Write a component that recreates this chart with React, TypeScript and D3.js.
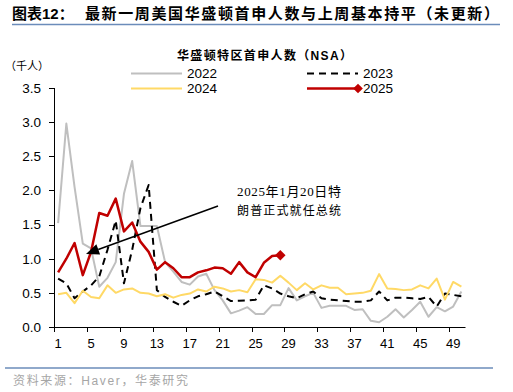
import React, { useEffect, useRef } from "react";
import * as d3 from "d3";

// weekly initial claims, DC (NSA), thousands
const weeks = d3.range(1, 51);
const xTickWeeks = [1, 5, 9, 13, 17, 21, 25, 29, 33, 37, 41, 45, 49];
const yTicks = [0, 0.5, 1, 1.5, 2, 2.5, 3, 3.5];

const y2022 = [
  1.52, 2.98, 2.05, 1.22, 1.15, 0.59, 0.72, 0.95, 1.95, 2.43, 1.48, 1.48, 1.48,
  0.95, 0.81, 0.66, 0.62, 0.74, 0.78, 0.54, 0.39, 0.2, 0.24, 0.29, 0.19, 0.19,
  0.32, 0.32, 0.57, 0.39, 0.45, 0.5, 0.28, 0.31, 0.31, 0.31, 0.25, 0.26, 0.09,
  0.07, 0.15, 0.26, 0.14, 0.25, 0.37, 0.15, 0.29, 0.23, 0.3, 0.52
];
const y2023 = [
  0.71, 0.64, 0.42, 0.52, 0.61, 0.74, 1.13, 1.56, 0.64, 1.13, 1.74, 2.08, 0.54,
  0.44, 0.37, 0.31, 0.39, 0.45, 0.48, 0.52, 0.45, 0.38, 0.385, 0.39, 0.4, 0.61,
  0.565, 0.49, 0.45, 0.42, 0.48, 0.52, 0.42, 0.4, 0.39, 0.38, 0.37, 0.37, 0.39,
  0.52, 0.39, 0.43, 0.43, 0.42, 0.41, 0.44, 0.3, 0.49, 0.47, 0.45
];
const y2024 = [
  0.48, 0.5, 0.35, 0.53, 0.44, 0.42, 0.61, 0.5, 0.55, 0.565, 0.5, 0.49, 0.45,
  0.48, 0.43, 0.47, 0.49, 0.55, 0.52, 0.59, 0.565, 0.52, 0.54, 0.51, 0.7, 0.69,
  0.65, 0.75, 0.65, 0.54, 0.64, 0.55, 0.61, 0.575, 0.575, 0.48, 0.49, 0.5, 0.53,
  0.775, 0.565, 0.555, 0.54, 0.55, 0.61, 0.565, 0.71, 0.4, 0.66, 0.59
];
const y2025 = [
  0.8, 1.0, 1.23, 0.76, 1.1, 1.67, 1.63, 1.88, 1.4, 1.53, 1.25, 1.1, 0.84, 0.95,
  0.86, 0.73, 0.73, 0.8, 0.83, 0.87, 0.86, 0.78, 0.95, 0.8, 0.73, 0.94, 1.04, 1.05
];

const series = [
  { name: "2022", values: y2022, color: "#bfbfbf", width: 2, dash: null },
  { name: "2023", values: y2023, color: "#000000", width: 2, dash: "7,5" },
  { name: "2024", values: y2024, color: "#ffd966", width: 2, dash: null },
  { name: "2025", values: y2025, color: "#c00000", width: 2.5, dash: null }
];

const width = 513;
const height = 392;
const sans = "'Liberation Sans', Arial, 'Noto Sans CJK SC', sans-serif";
const cjk = "'Liberation Sans', 'Noto Sans CJK SC', sans-serif";
const serif = "'Liberation Serif', 'Noto Sans CJK SC', serif";
const rule = "#6b8cba";

const App = () => {
  const chart = useRef(null);

  useEffect(() => {
    const svg = d3.select(chart.current);
    svg.selectAll("*").remove();

    const x = d3.scaleBand().domain(weeks).range([54, 465.5]).padding(0);
    const cx = w => x(w) + x.bandwidth() / 2;
    const y = d3.scaleLinear().domain([0, 3.5]).range([327, 88]);

    // title
    svg.append("text").attr("x", 12).attr("y", 19)
      .attr("font-family", cjk).attr("font-size", 15).attr("font-weight", "bold")
      .text("图表12：");
    svg.append("text").attr("x", 85).attr("y", 19)
      .attr("font-family", cjk).attr("font-size", 15).attr("font-weight", "bold")
      .attr("textLength", 414).attr("lengthAdjust", "spacing")
      .text("最新一周美国华盛顿首申人数与上周基本持平（未更新）");
    svg.append("line").attr("x1", 12).attr("x2", 500).attr("y1", 24.5).attr("y2", 24.5)
      .attr("stroke", rule).attr("stroke-width", 1.5);

    // chart title + unit
    svg.append("text").attr("x", 177).attr("y", 60)
      .attr("font-family", cjk).attr("font-size", 12).attr("font-weight", "bold")
      .attr("textLength", 175).attr("lengthAdjust", "spacing")
      .text("华盛顿特区首申人数（NSA）");
    svg.append("text").attr("x", 5).attr("y", 70)
      .attr("font-family", "'Noto Sans CJK SC', sans-serif").attr("font-size", 11)
      .text("（千人）");

    // legend
    const legend = [
      { s: series[0], x: 131, y: 73.5 },
      { s: series[1], x: 307, y: 73.5 },
      { s: series[2], x: 131, y: 88.5 },
      { s: series[3], x: 307, y: 88.5 }
    ];
    legend.forEach(d => {
      svg.append("line").attr("x1", d.x).attr("x2", d.x + 51).attr("y1", d.y).attr("y2", d.y)
        .attr("stroke", d.s.color).attr("stroke-width", d.s.width)
        .attr("stroke-dasharray", d.s.dash);
      if (d.s.name === "2025") {
        svg.append("path").attr("d", d3.symbol(d3.symbolDiamond2, 60)())
          .attr("transform", `translate(${d.x + 51},${d.y})`).attr("fill", d.s.color);
      }
      svg.append("text").attr("x", d.x + 56).attr("y", d.y).attr("dy", "0.36em")
        .attr("font-family", sans).attr("font-size", 13.5).text(d.s.name);
    });

    // axes
    const ax = svg.append("g").attr("stroke", "#000").attr("stroke-width", 1);
    ax.append("line").attr("x1", 54.5).attr("x2", 54.5).attr("y1", y(3.5)).attr("y2", y(0));
    ax.append("line").attr("x1", 54).attr("x2", 465.5).attr("y1", y(0) + 0.5).attr("y2", y(0) + 0.5);
    yTicks.forEach(t => {
      ax.append("line").attr("x1", 49).attr("x2", 54.5)
        .attr("y1", Math.round(y(t)) + 0.5).attr("y2", Math.round(y(t)) + 0.5);
      svg.append("text").attr("x", 41).attr("y", y(t)).attr("dy", "0.36em")
        .attr("text-anchor", "end").attr("font-family", sans).attr("font-size", 13.5)
        .text(d3.format(".1f")(t));
    });
    xTickWeeks.forEach(w => {
      const tx = Math.round(x(w)) + 0.5;
      ax.append("line").attr("x1", tx).attr("x2", tx).attr("y1", y(0)).attr("y2", y(0) + 5);
      svg.append("text").attr("x", cx(w)).attr("y", 348)
        .attr("text-anchor", "middle").attr("font-family", sans).attr("font-size", 13)
        .text(w);
    });

    // lines
    series.forEach(s => {
      const line = d3.line().x((v, i) => cx(weeks[i])).y(v => y(v));
      svg.append("path").attr("d", line(s.values)).attr("fill", "none")
        .attr("stroke", s.color).attr("stroke-width", s.width)
        .attr("stroke-dasharray", s.dash).attr("stroke-linejoin", "round");
    });
    const last = y2025.length - 1;
    svg.append("path").attr("d", d3.symbol(d3.symbolDiamond2, 70)())
      .attr("transform", `translate(${cx(weeks[last])},${y(y2025[last])})`)
      .attr("fill", "#c00000");

    // annotation (inauguration, week 5 of 2025)
    const tipX = cx(5) - 5;
    const tipY = y(y2025[4]) + 2;
    const fromX = 218, fromY = 206;
    const ang = Math.atan2(tipY - fromY, tipX - fromX);
    const hl = 13, hw = 5.5;
    const bx = tipX - hl * Math.cos(ang), by = tipY - hl * Math.sin(ang);
    svg.append("line").attr("x1", fromX).attr("y1", fromY).attr("x2", bx).attr("y2", by)
      .attr("stroke", "#000").attr("stroke-width", 1.5);
    svg.append("path")
      .attr("d", `M${tipX},${tipY}L${bx + hw * Math.sin(ang)},${by - hw * Math.cos(ang)}L${bx - hw * Math.sin(ang)},${by + hw * Math.cos(ang)}Z`)
      .attr("fill", "#000");
    svg.append("text").attr("x", 237).attr("y", 196)
      .attr("font-family", serif).attr("font-size", 13)
      .attr("textLength", 104).attr("lengthAdjust", "spacing")
      .text("2025年1月20日特");
    svg.append("text").attr("x", 237).attr("y", 215)
      .attr("font-family", serif).attr("font-size", 12)
      .attr("textLength", 104).attr("lengthAdjust", "spacing")
      .text("朗普正式就任总统");

    // source
    svg.append("line").attr("x1", 5).attr("x2", 493).attr("y1", 368).attr("y2", 368)
      .attr("stroke", rule).attr("stroke-width", 1.5);
    svg.append("text").attr("x", 13).attr("y", 385)
      .attr("font-family", cjk).attr("font-size", 12).attr("fill", "#a6a6a6")
      .attr("textLength", 175).attr("lengthAdjust", "spacing")
      .text("资料来源：Haver，华泰研究");
  }, []);

  return (
    <svg
      ref={chart}
      width={width}
      height={height}
      viewBox={`0 0 ${width} ${height}`}
      style={{ position: "absolute", left: 0, top: 0, background: "#fff" }}
    ></svg>
  );
};

export default App;
